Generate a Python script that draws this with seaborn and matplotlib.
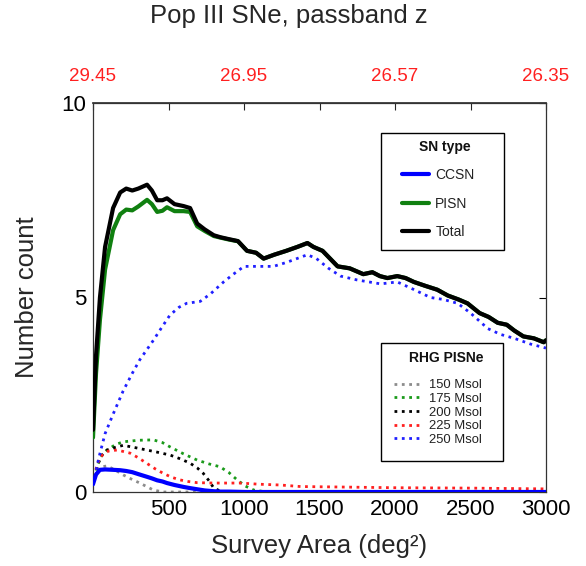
import numpy as np
import pandas as pd
import matplotlib
matplotlib.use("Agg")
import matplotlib.pyplot as plt
from matplotlib.patches import Rectangle
import seaborn as sns

# Survey area grid (deg^2) for the summed SN counts
area = [0, 20, 46, 80, 133, 180, 220, 260, 300, 358, 390, 425, 460, 490, 540,
        600, 643, 690, 740, 800, 843, 900, 960, 1020, 1080, 1130, 1200, 1280,
        1353, 1420, 1460, 1520, 1570, 1620, 1700, 1790, 1850, 1900, 1950, 2015,
        2070, 2125, 2200, 2280, 2350, 2420, 2480, 2560, 2620, 2680, 2740, 2790,
        2850, 2920, 2985, 3000]
total = [1.6, 3.5, 5.0, 6.3, 7.3, 7.7, 7.8, 7.75, 7.8, 7.9, 7.75, 7.5, 7.5, 7.55,
         7.4, 7.35, 7.3, 6.9, 6.75, 6.6, 6.55, 6.5, 6.45, 6.2, 6.15, 6.0, 6.1,
         6.2, 6.3, 6.4, 6.3, 6.2, 6.0, 5.8, 5.75, 5.6, 5.65, 5.55, 5.5, 5.55,
         5.5, 5.4, 5.3, 5.2, 5.05, 4.95, 4.85, 4.6, 4.5, 4.35, 4.3, 4.15, 4.0,
         3.95, 3.85, 3.9]
ccsn = [0.2, 0.45, 0.57, 0.58, 0.57, 0.56, 0.54, 0.51, 0.46, 0.39, 0.35, 0.3,
        0.27, 0.23, 0.18, 0.13, 0.1, 0.07, 0.04, 0.02, 0.01, 0.01, 0.005, 0.0,
        0.0, 0.0, 0.0, 0.0, 0.0, 0.0, 0.0, 0.0, 0.0, 0.0, 0.0, 0.0, 0.0, 0.0,
        0.0, 0.0, 0.0, 0.0, 0.0, 0.0, 0.0, 0.0, 0.0, 0.0, 0.0, 0.0, 0.0, 0.0,
        0.0, 0.0, 0.0, 0.0]
pisn = [t - c for t, c in zip(total, ccsn)]

# RHG PISN models by progenitor mass
area_150 = [0, 20, 46, 93, 140, 200, 250, 310, 360, 400, 465, 3000]
rhg_150 = [0.2, 0.45, 0.64, 0.67, 0.58, 0.44, 0.34, 0.23, 0.13, 0.05, 0.0, 0.0]

area_175 = [0, 30, 60, 93, 150, 200, 300, 400, 460, 510, 600, 690, 770, 840,
            900, 955, 1010, 1065, 1150, 3000]
rhg_175 = [0.18, 0.7, 0.95, 1.08, 1.22, 1.29, 1.33, 1.34, 1.27, 1.16, 0.98,
           0.82, 0.72, 0.65, 0.5, 0.31, 0.15, 0.05, 0.0, 0.0]

area_200 = [0, 30, 60, 93, 150, 200, 280, 355, 430, 510, 580, 643, 690, 730,
            770, 800, 840, 870, 3000]
rhg_200 = [0.2, 0.7, 0.95, 1.08, 1.15, 1.2, 1.14, 1.08, 1.02, 0.95, 0.85,
           0.74, 0.62, 0.48, 0.28, 0.1, 0.03, 0.0, 0.0]

area_225 = [0, 20, 46, 100, 160, 245, 300, 355, 410, 465, 520, 577, 630, 690,
            800, 975, 1100, 1240, 1375, 1600, 2000, 2500, 3000]
rhg_225 = [0.2, 0.6, 0.9, 1.05, 1.08, 1.0, 0.88, 0.74, 0.6, 0.48, 0.38, 0.31,
           0.27, 0.24, 0.23, 0.23, 0.2, 0.18, 0.14, 0.13, 0.11, 0.1, 0.08]

area_250 = [0, 40, 80, 133, 200, 260, 310, 400, 450, 510, 570, 620, 710, 780,
            865, 930, 1000, 1100, 1195, 1280, 1350, 1420, 1480, 1560, 1640,
            1750, 1905, 2015, 2100, 2235, 2320, 2415, 2500, 2615, 2700, 2790,
            2900, 3000]
rhg_250 = [0.2, 0.9, 1.5, 2.0, 2.6, 3.05, 3.4, 3.9, 4.2, 4.55, 4.75, 4.85,
           4.9, 5.1, 5.4, 5.6, 5.8, 5.8, 5.8, 5.9, 6.0, 6.1, 6.0, 5.75, 5.55,
           5.45, 5.35, 5.4, 5.25, 5.0, 4.95, 4.85, 4.6, 4.2, 4.05, 3.95, 3.8,
           3.7]

# Limiting magnitudes shown on the top axis (every other 500 deg^2 tick)
top_ticks = [0, 500, 1000, 1500, 2000, 2500, 3000]
top_labels = ["29.45", "", "26.95", "", "26.57", "", "26.35"]

sns.set_theme(style="white")
plt.rcParams["font.family"] = ["Liberation Sans", "DejaVu Sans"]

W, H = 586, 566
fig = plt.figure(figsize=(W / 100, H / 100), dpi=100)
ax = fig.add_axes([93 / W, 1 - 492 / H, (546 - 93) / W, (492 - 103) / H])


def fx(px):
    return px / W


def fy(py):
    return 1 - py / H


rhg = [("150 Msol", area_150, rhg_150, "#8c8c8c"),
       ("175 Msol", area_175, rhg_175, "#1a9a1a"),
       ("200 Msol", area_200, rhg_200, "black"),
       ("225 Msol", area_225, rhg_225, "#ff2020"),
       ("250 Msol", area_250, rhg_250, "#2020ff")]
rhg_handles = []
for name, xs, ys, col in rhg:
    sns.lineplot(x=xs, y=ys, ax=ax, color=col, linestyle=":", linewidth=2.0,
                 zorder=2)
    rhg_handles.append(ax.lines[-1])

sn = [("CCSN", ccsn, "#0000ff", 3.0),
      ("PISN", pisn, "#108010", 3.0),
      ("Total", total, "black", 3.0)]
sn_handles = []
for name, ys, col, lw in sn:
    sns.lineplot(x=area, y=ys, ax=ax, color=col, linewidth=lw, zorder=3)
    sn_handles.append(ax.lines[-1])

ax.set_xlim(0, 3000)
ax.set_ylim(0, 10)
ax.set_xticks([500, 1000, 1500, 2000, 2500, 3000])
ax.set_yticks([0, 5, 10])
ax.tick_params(axis="x", direction="in", length=5, width=0.8, labelsize=16,
               top=False, colors="black", pad=5)
ax.tick_params(axis="y", direction="in", length=5, width=0.8, labelsize=16,
               right=True, colors="black", pad=5)
for s in ax.spines.values():
    s.set_color("#333333")
    s.set_linewidth(0.9)

ax.set_xlabel("Survey Area (deg²)", fontsize=18.5, labelpad=10)
ax.set_ylabel("Number count", fontsize=18.5, labelpad=16)

top = ax.secondary_xaxis("top")
top.set_xticks(top_ticks)
top.set_xticklabels(top_labels)
top.tick_params(direction="in", length=5, width=0.8, labelsize=13.5,
                labelcolor="#ff2020", pad=13)
top.spines["top"].set_color("#333333")

fig.text(fx(289), fy(16), "Pop III SNe, passband z", ha="center",
         va="center", fontsize=18.5)

# Legend frames, drawn inside the axes under the legend entries
for (x0, y0, x1, y1) in [(381, 133, 504, 250), (381, 343, 503, 461)]:
    ax.add_patch(Rectangle((fx(x0), fy(y1)), (x1 - x0) / W, (y1 - y0) / H,
                           transform=fig.transFigure, facecolor="white",
                           edgecolor="black", linewidth=1.0, zorder=4,
                           clip_on=False))

# Legend headings
ax.text(fx(445), fy(147), "SN type", transform=fig.transFigure, ha="center",
        va="center", fontsize=10, fontweight="bold", color="#111111",
        zorder=6)
ax.text(fx(446), fy(358), "RHG PISNe", transform=fig.transFigure,
        ha="center", va="center", fontsize=10, fontweight="bold",
        color="#111111", zorder=6)

leg1 = ax.legend(sn_handles, [s[0] for s in sn],
                 loc="upper left", bbox_to_anchor=(fx(402), fy(168)),
                 bbox_transform=fig.transFigure, fontsize=10,
                 handlelength=1.95, labelspacing=1.05, borderpad=0,
                 handletextpad=0.45, frameon=False, borderaxespad=0)
for t in leg1.get_texts():
    t.set_color("#222222")
leg1.set_zorder(5)
ax.add_artist(leg1)

leg2 = ax.legend(rhg_handles, [r[0] for r in rhg],
                 loc="upper left", bbox_to_anchor=(fx(394), fy(379)),
                 bbox_transform=fig.transFigure, fontsize=9.4,
                 handlelength=2.1, labelspacing=0.12, borderpad=0,
                 handletextpad=0.55, frameon=False, borderaxespad=0)
for t in leg2.get_texts():
    t.set_color("#222222")
leg2.set_zorder(5)

fig.savefig("out.png", dpi=100)
